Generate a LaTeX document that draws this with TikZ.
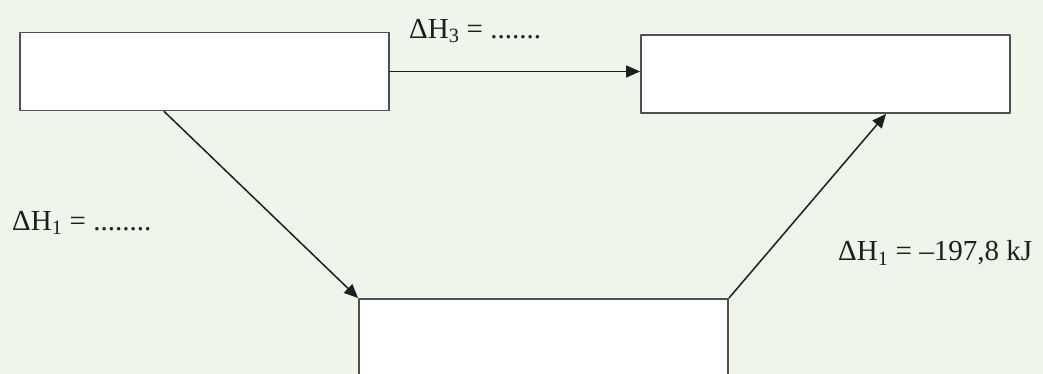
\documentclass[tikz,border=0pt]{standalone}
\usepackage{fontspec}
\setmainfont{Liberation Serif}
\usetikzlibrary{arrows.meta,calc,positioning}
\definecolor{hsBack}{HTML}{F0F5EC}
\definecolor{hsInk}{HTML}{1E1E1E}
\definecolor{hsEdge}{HTML}{505050}
\tikzset{
 cycle/.style={line cap=round,line join=round,text=hsInk},
 stage/.style={rectangle,draw=hsEdge,fill=white,line width=1.8pt,inner sep=0pt,
   minimum width=369pt,minimum height=78pt},
 path/.style={draw=hsInk,line width=1.5pt,-{Triangle[length=14pt,width=12pt]}},
 dh/.style={font=\fontsize{29}{33}\selectfont,anchor=west,inner sep=0pt}
}
\begin{document}
\begin{tikzpicture}[cycle,x=1pt,y=1pt]
 \fill[hsBack] (0,0) rectangle (1043,374);
 \useasboundingbox (0,0) rectangle (1043,374);
 \node[stage] (start) at (204.5,302.5) {};
 \node[stage] (end) at (825.5,300) {};
 \node[stage] (mid) at (543.5,36) {};
 \draw[path] (start.east) -- (start.east -| end.west);
 \draw[path] ([xshift=145pt]start.south west) -- (mid.north west);
 \draw[path] (mid.north east) -- ([xshift=246pt]end.south west);
 \node[dh] (dh3) at (409,343) {ΔH\textsubscript{3} = .......};
 \node[dh] (dh1) at (12,151) {ΔH\textsubscript{1} = ........};
 \node[dh] (dh2) at (838,121) {ΔH\textsubscript{1} = –197,8 kJ};
\end{tikzpicture}
\end{document}
